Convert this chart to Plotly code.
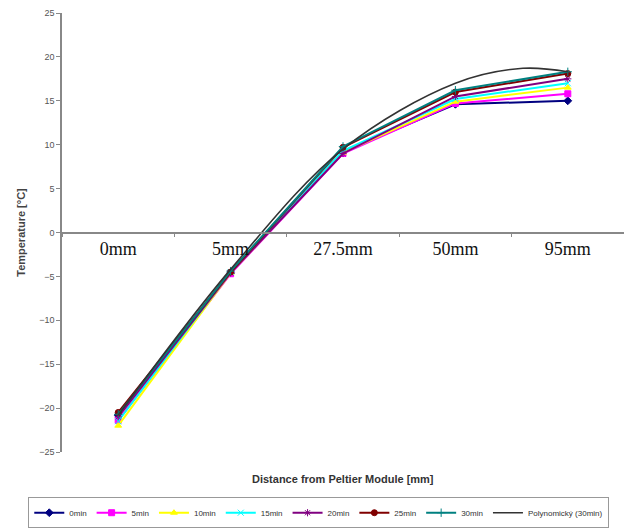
import plotly.graph_objects as go

categories = ["0mm", "5mm", "27.5mm", "50mm", "95mm"]
series_names = ["0min", "5min", "10min", "15min", "20min", "25min", "30min"]
t0 = [-20.8, -4.6, 9.2, 14.6, 15.0]
t5 = [-21.4, -4.7, 9.0, 14.7, 15.8]
t10 = [-22.0, -4.6, 9.1, 14.9, 16.5]
t15 = [-21.5, -4.5, 9.3, 15.2, 17.0]
t20 = [-21.0, -4.6, 9.0, 15.5, 17.5]
t25 = [-20.5, -4.5, 9.7, 16.0, 18.1]
t30 = [-20.7, -4.4, 9.8, 16.2, 18.3]
series_values = [t0, t5, t10, t15, t20, t25, t30]

poly_name = "Polynomický (30min)"
poly_x = [0, 1, 2, 3, 3.6, 4]          # positions along the category axis
poly_y = [-20.8, -4.2, 9.5, 17.0, 18.7, 18.3]

y_ticks = [-25, -20, -15, -10, -5, 0, 5, 10, 15, 20, 25]

colors = ["#000080", "#FF00FF", "#FFFF00", "#00FFFF", "#800080", "#800000", "#008080"]
symbols = ["diamond", "square", "triangle-up", "x-thin", "asterisk", "circle", "cross-thin"]

fig = go.Figure()
xs = list(range(len(categories)))

for name, vals, c, s in zip(series_names, series_values, colors, symbols):
    fig.add_trace(go.Scatter(
        x=xs, y=vals, name=name, mode="lines+markers",
        line=dict(color=c, width=2),
        marker=dict(color=c, symbol=s, size=6, line=dict(color=c, width=1)),
    ))
fig.add_trace(go.Scatter(
    x=poly_x, y=poly_y, name=poly_name, mode="lines",
    line=dict(color="#333333", width=1.6, shape="spline"),
))

fig.update_layout(
    width=624, height=528,
    margin=dict(l=62, r=0, t=13, b=76, autoexpand=False),
    paper_bgcolor="white", plot_bgcolor="white",
    font=dict(family="Liberation Sans, Arial", color="#333"),
    showlegend=True,
    legend=dict(
        orientation="h", x=-0.06, xanchor="left", y=-0.103, yanchor="top",
        font=dict(size=8, color="#333"),
        bordercolor="#999", borderwidth=1,
        itemwidth=30, tracegroupgap=0,
    ),
    xaxis=dict(
        anchor="free", position=0.5, side="bottom", automargin=False,
        range=[-0.5, 4.5], tickmode="array", tickvals=xs, ticktext=categories,
        ticks="", showline=True, linecolor="#888", linewidth=1.5,
        showgrid=False, zeroline=False,
        tickfont=dict(family="Liberation Serif, Times New Roman", size=18, color="#111"),
        minor=dict(tick0=0.5, dtick=1, ticks="outside", ticklen=4, tickcolor="#888", tickwidth=1),
    ),
    yaxis=dict(
        range=[-25, 25], tickmode="array", tickvals=y_ticks, automargin=False,
        ticks="outside", ticklen=4, tickcolor="#888",
        showline=True, linecolor="#888", linewidth=1.5,
        showgrid=False, zeroline=False,
        tickfont=dict(size=9, color="#555"),
        title=dict(text="<b>Temperature [°C]</b>", font=dict(size=11, color="#444"), standoff=11),
    ),
    annotations=[dict(
        text="<b>Distance from Peltier Module [mm]</b>", xref="paper", yref="paper",
        x=0.5, y=-0.0615, xanchor="center", yanchor="middle", showarrow=False,
        font=dict(size=11, color="#333"),
    )],
)

fig.write_html("out.html", config={"displayModeBar": False},
               post_script="document.body.style.margin='0';")
